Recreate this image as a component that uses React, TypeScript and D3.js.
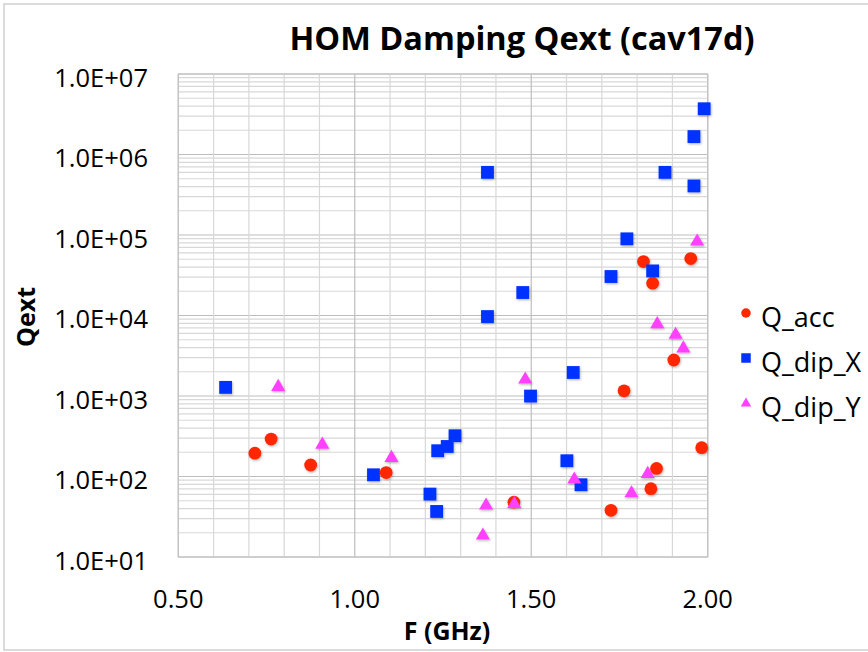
import React from "react";
import * as d3 from "d3";

const accF = [0.717, 0.763, 0.875, 1.089, 1.451, 1.726, 1.763, 1.818, 1.839, 1.844, 1.855, 1.904, 1.952, 1.983];
const accQ = [195, 292, 139, 112, 48, 38, 1160, 46800, 70.5, 25200, 126, 2800, 51000, 228];

const dipXF = [0.634, 1.053, 1.213, 1.232, 1.235, 1.262, 1.284, 1.376, 1.376, 1.476, 1.498, 1.601, 1.619, 1.641, 1.726, 1.771, 1.844, 1.879, 1.961, 1.961, 1.990];
const dipXQ = [1280, 105, 60.5, 36.8, 209, 236, 321, 9700, 600000, 19300, 998, 157, 1960, 79, 30500, 89600, 35800, 600000, 407000, 1670000, 3700000];

const dipYF = [0.783, 0.908, 1.104, 1.363, 1.372, 1.452, 1.483, 1.622, 1.784, 1.830, 1.857, 1.909, 1.931, 1.970];
const dipYQ = [1330, 255, 174, 18.9, 44.6, 46.7, 1640, 93.8, 63.4, 110, 8000, 5900, 4000, 85000];

const xTicks = [0.5, 1.0, 1.5, 2.0];
const xTickLabels = ["0.50", "1.00", "1.50", "2.00"];
const yTicks = [10, 100, 1000, 10000, 100000, 1000000, 10000000];
const yTickLabels = ["1.0E+01", "1.0E+02", "1.0E+03", "1.0E+04", "1.0E+05", "1.0E+06", "1.0E+07"];

const seriesNames = ["Q_acc", "Q_dip_X", "Q_dip_Y"];
const seriesColors = ["#FF2600", "#0433FF", "#FF40FF"];

const FONT = "'Open Sans', 'DejaVu Sans', sans-serif";

function Marker({ kind, cx, cy, s, color }: { kind: number; cx: number; cy: number; s: number; color: string }) {
  if (kind === 0) return <circle cx={cx} cy={cy} r={s / 2} fill={color} />;
  if (kind === 1) return <rect x={cx - s / 2} y={cy - s / 2} width={s} height={s} fill={color} />;
  const w = s * 1.1;
  const h = s * 0.95;
  const p = `M${cx},${cy - h * 0.6} L${cx + w / 2},${cy + h * 0.4} L${cx - w / 2},${cy + h * 0.4} Z`;
  return <path d={p} fill={color} />;
}

export default function App() {
  const W = 868, H = 652;
  const x = d3.scaleLinear().domain([0.5, 2.0]).range([178.3, 707.7]);
  const y = d3.scaleLog().domain([10, 1e7]).range([557, 74]);

  const vLines = d3.range(5, 21).map((i) => i / 10);
  const hLines: { v: number; major: boolean }[] = [];
  for (let e = 1; e <= 7; e++) {
    const base = Math.pow(10, e);
    hLines.push({ v: base, major: true });
    if (e < 7) for (let m = 2; m <= 9; m++) hLines.push({ v: base * m, major: false });
  }

  const series = [
    { f: accF, q: accQ },
    { f: dipXF, q: dipXQ },
    { f: dipYF, q: dipYQ },
  ];

  const [x0, x1] = x.range();
  const [y0, y1] = y.range();

  return (
    <svg width={W} height={H} style={{ position: "absolute", left: 0, top: 0, background: "#fff" }}>
      <defs>
        <filter id="sh" x="-50%" y="-50%" width="200%" height="200%">
          <feDropShadow dx="0.8" dy="1.2" stdDeviation="0.9" floodColor="#000" floodOpacity="0.3" />
        </filter>
      </defs>
      <rect x={0} y={0} width={W} height={H} fill="#fff" />
      <path d={`M${W + 2},4 L4,4 L4,650 L${W + 2},650`} fill="none" stroke="#cfcfcf" strokeWidth={1.5} />

      {hLines.map((l, i) => (
        <line key={"h" + i} x1={x0} x2={x1} y1={y(l.v)} y2={y(l.v)} stroke={l.major ? "#bdbdbd" : "#d8d8d8"} strokeWidth={1.2} />
      ))}
      {vLines.map((v, i) => {
        const major = Math.abs(v * 2 - Math.round(v * 2)) < 1e-6;
        return <line key={"v" + i} x1={x(v)} x2={x(v)} y1={y1} y2={y0} stroke={major ? "#bdbdbd" : "#d8d8d8"} strokeWidth={1.2} />;
      })}
      <rect x={x0} y={y1} width={x1 - x0} height={y0 - y1} fill="none" stroke="#c4c4c4" strokeWidth={1.2} />

      {yTicks.map((t, i) => (
        <text key={"yt" + i} x={148} y={y(t) + 12.5} textAnchor="end" fontFamily={FONT} fontSize={25.5} fill="#000">
          {yTickLabels[i]}
        </text>
      ))}
      {xTicks.map((t, i) => (
        <text key={"xt" + i} x={x(t)} y={608} textAnchor="middle" fontFamily={FONT} fontSize={25.5} fill="#000">
          {xTickLabels[i]}
        </text>
      ))}

      <text x={522} y={50} textAnchor="middle" fontFamily={FONT} fontWeight="bold" fontSize={32.5} fill="#000">
        HOM Damping Qext (cav17d)
      </text>
      <text x={447} y={640} textAnchor="middle" fontFamily={FONT} fontWeight="bold" fontSize={25} fill="#000">
        F (GHz)
      </text>
      <text transform={`translate(35,317) rotate(-90)`} textAnchor="middle" fontFamily={FONT} fontWeight="bold" fontSize={25} fill="#000">
        Qext
      </text>

      <g filter="url(#sh)">
        {series.map((s, k) =>
          s.f.map((f, i) => <Marker key={k + "-" + i} kind={k} cx={x(f)} cy={y(s.q[i])} s={12.8} color={seriesColors[k]} />)
        )}
      </g>

      {seriesNames.map((n, k) => (
        <g key={"lg" + k}>
          <Marker kind={k} cx={746} cy={313 + k * 45} s={9.5} color={seriesColors[k]} />
          <text x={761} y={327 + k * 45} fontFamily={FONT} fontSize={27} fill="#000">
            {n}
          </text>
        </g>
      ))}
    </svg>
  );
}
